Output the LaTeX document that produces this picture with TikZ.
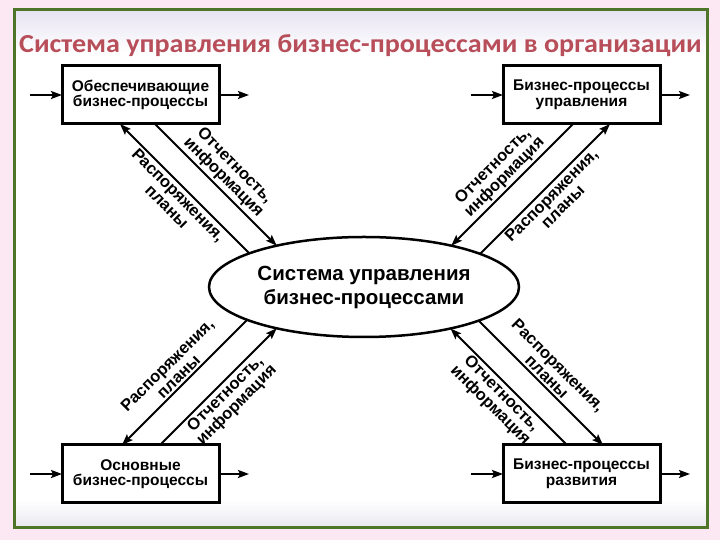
\documentclass[tikz,border=0pt]{standalone}
\usepackage{fontspec}
\setmainfont{Liberation Sans}
\newfontfamily\titlefont[FakeStretch=1.08]{Carlito}
\usetikzlibrary{arrows.meta,calc,shapes.geometric}

\definecolor{pinkbg}{RGB}{251,232,243}
\definecolor{framegreen}{RGB}{79,118,40}
\definecolor{titlered}{RGB}{184,78,90}
\definecolor{bandtop}{RGB}{230,226,241}
\definecolor{bandbot}{RGB}{233,231,239}

\begin{document}
\begin{tikzpicture}[x=1pt,y=1pt,>={Stealth[length=11pt,width=8pt,inset=2pt]}]
    \tikzstyle{every node} = [font=\bfseries\fontsize{15.5}{15.5}\selectfont]
    \tikzstyle{block} = [draw, rectangle, line width=3pt, fill=white, minimum width=157pt, minimum height=58pt, inner sep=0pt, outer sep=0pt, align=center]
    \tikzstyle{link} = [line width=2pt]
    \tikzstyle{lab} = [sloped, midway, align=center, inner sep=2pt, font=\bfseries\fontsize{16.5}{16}\selectfont]

    % background and frame
    \fill[pinkbg] (0,0) rectangle (720,540);
    \fill[white] (14,12) rectangle (707,530);
    \shade[top color=bandtop, bottom color=white] (14,488) rectangle (707,530);
    \shade[top color=white, bottom color=bandbot] (14,12) rectangle (707,40);
    \draw[framegreen, line width=3pt] (14,12) rectangle (707,530);

    % place nodes
    \node[anchor=base, text=titlered, font=\titlefont\bfseries\fontsize{26}{26}\selectfont] (title) at (360.5,487) {Система управления бизнес-процессами в организации};
    \node[block] (tl) at (140.5,445) {Обеспечивающие\\бизнес-процессы};
    \node[block] (tr) at (581.5,445) {Бизнес-процессы\\управления};
    \node[block] (bl) at (140.5,66) {Основные\\бизнес-процессы};
    \node[block] (br) at (581.5,66) {Бизнес-процессы\\развития};
    \node[draw, ellipse, line width=2.5pt, fill=white, minimum width=310pt, minimum height=100pt, inner sep=0pt, outer sep=0pt, align=center, font=\bfseries\fontsize{20.5}{24}\selectfont] (sys) at (364,253) {Система управления\\бизнес-процессами};

    % inputs and outputs
    \draw[link,<-] (tl.west) -- ++(-32,0);
    \draw[link,->] (tl.east) -- ++(30,0);
    \draw[link,<-] (tr.west) -- ++(-32,0);
    \draw[link,->] (tr.east) -- ++(30,0);
    \draw[link,<-] (bl.west) -- ++(-32,0);
    \draw[link,->] (bl.east) -- ++(30,0);
    \draw[link,<-] (br.west) -- ++(-32,0);
    \draw[link,->] (br.east) -- ++(30,0);

    % Connections
    \draw[link,<-] ($(tl.south)+(-20.5,0)$) -- node[lab,below]{Распоряжения,\\планы} ++(129.3,-129.3);
    \draw[link,->] ($(tl.south)+(14.5,0)$) -- node[lab,above]{Отчетность,\\информация} ++(121.7,-121.7);
    \draw[link,->] ($(tr.south)+(-8.5,0)$) -- node[lab,above]{Отчетность,\\информация} ++(-121.7,-121.7);
    \draw[link,<-] ($(tr.south)+(28.5,0)$) -- node[lab,below]{Распоряжения,\\планы} ++(-129.9,-129.9);
    \draw[link,<-] ($(bl.north)+(-18.5,0)$) -- node[lab,above]{Распоряжения,\\планы} ++(125.2,125.2);
    \draw[link,->] ($(bl.north)+(19.5,0)$) -- node[lab,below]{Отчетность,\\информация} ++(116.7,116.7);
    \draw[link,->] ($(br.north)+(-14.5,0)$) -- node[lab,below]{Отчетность,\\информация} ++(-116.5,116.5);
    \draw[link,<-] ($(br.north)+(21.5,0)$) -- node[lab,above]{Распоряжения,\\планы} ++(-124.3,124.3);
\end{tikzpicture}
\end{document}
